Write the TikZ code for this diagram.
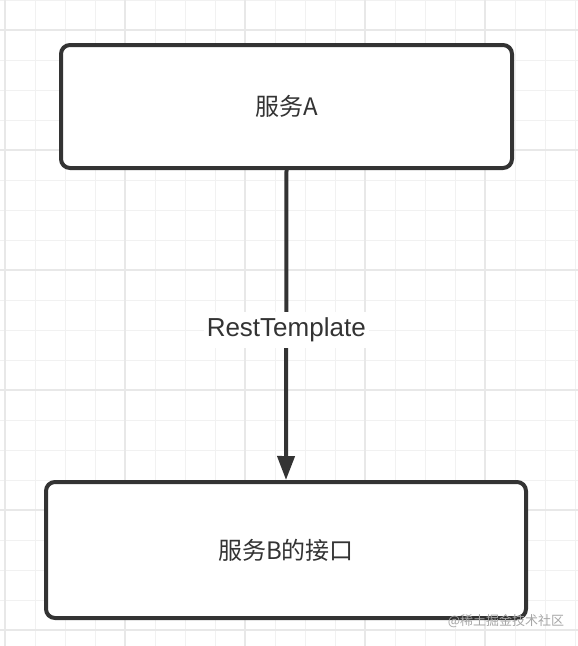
\documentclass[tikz,border=0pt]{standalone}
\usepackage{fontspec}
\setmainfont{Liberation Sans}
\newfontfamily\cjk{Noto Sans CJK SC}
\usetikzlibrary{arrows.meta,positioning}
\definecolor{ink}{HTML}{333333}
\definecolor{gridminor}{HTML}{F1F1F1}
\definecolor{gridmajor}{HTML}{E8E8E8}

\begin{document}
\begin{tikzpicture}[
	x=1pt, y=-1pt,
	minorline/.style={gridminor, line width=1pt},
	majorline/.style={gridmajor, line width=1.6pt},
	service/.style={rectangle, draw=ink, fill=white, line width=4pt, rounded corners=9pt,
		font=\cjk\fontsize{24}{28}\selectfont, text=ink},
	call/.style={draw=ink, line width=4pt, -{Triangle[length=24pt, width=17pt]}},
	tag/.style={fill=white, text=ink, inner xsep=3pt, inner ysep=6pt, font=\fontsize{26}{30}\selectfont},
	watermark/.style={text=gray!70, font=\cjk\fontsize{13}{15}\selectfont}
	]
	\useasboundingbox[fill=white] (0,0) rectangle (578,646);
	
	% grid
	\foreach \gx in {5,35,...,575} \draw[minorline] (\gx,0) -- (\gx,646);
	\foreach \gy in {0,30,...,640} \draw[minorline] (0,\gy) -- (578,\gy);
	\foreach \gx in {5,125,...,575} \draw[majorline] (\gx,0) -- (\gx,646);
	\foreach \gy in {30,150,...,640} \draw[majorline] (0,\gy) -- (578,\gy);
	
	\node[service, minimum width=451pt, minimum height=123pt] (svcA) at (286.5,106.5) {服务A};
	\node[service, minimum width=480pt, minimum height=136pt] (svcB) at (286,550) {服务B的接口};
	
	\draw[call] (svcA.south) -- node[tag, pos=0.515] (rest) {RestTemplate} (svcB.north);
	
	\node[watermark, anchor=center] (wm) at (506,621) {@稀土掘金技术社区};
\end{tikzpicture}
\end{document}
